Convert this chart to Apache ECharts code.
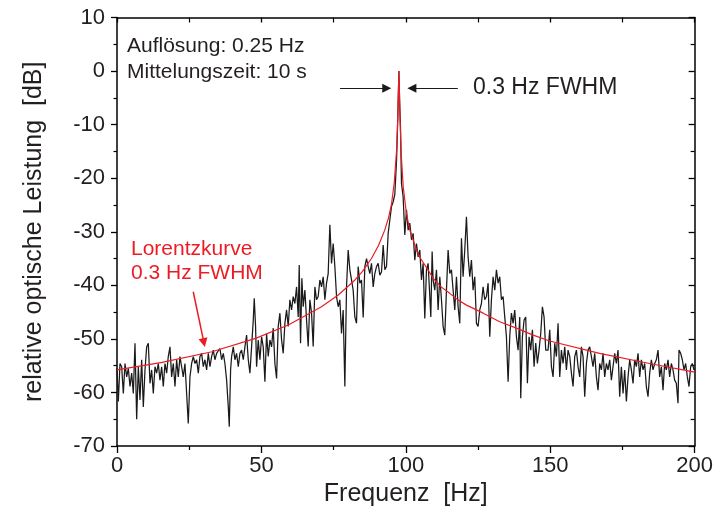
<!DOCTYPE html>
<html>
<head>
<meta charset="utf-8">
<script src="https://cdn.jsdelivr.net/npm/echarts@6/dist/echarts.min.js"></script>
<style>
html,body{margin:0;padding:0;background:#fff;}
#chart{width:716px;height:522px;}
</style>
</head>
<body>
<div id="chart"></div>
<script>
// ---- data ----
const xTicks = [0, 50, 100, 150, 200];
const yTicks = [-70, -60, -50, -40, -30, -20, -10, 0, 10];

// measured spectrum: frequency [Hz]
const freqHz = [
0.0,0.46,1.04,1.62,2.19,2.77,3.35,3.92,4.50,5.08,5.65,6.23,6.81,7.38,7.96,8.54,9.11,9.69,10.27,10.84,
11.42,12.00,12.57,13.15,13.73,14.30,14.88,15.46,16.03,16.61,17.19,17.76,18.34,18.92,19.49,20.07,20.65,21.22,21.80,22.38,
22.95,23.53,24.11,24.68,25.26,25.84,26.42,26.99,27.57,28.15,28.72,29.30,29.88,30.45,31.03,31.61,32.18,32.76,33.34,33.91,
34.49,35.07,35.64,36.22,36.80,37.37,37.95,38.53,38.87,39.33,39.68,40.26,40.83,41.41,41.99,42.56,43.14,43.72,44.29,44.87,
45.45,46.02,46.60,47.18,47.52,47.98,
48.33,48.90,49.48,50.06,50.63,51.21,51.79,52.36,52.94,53.52,54.09,54.67,55.25,55.82,56.40,56.98,57.55,58.13,58.71,59.28,
59.86,60.44,61.01,61.59,62.17,62.74,63.09,63.55,64.01,64.47,65.05,65.63,66.20,66.78,67.36,67.93,68.51,69.09,69.66,70.24,
70.82,71.39,71.97,72.55,73.12,73.70,74.28,74.85,75.43,76.01,76.58,77.16,77.74,78.31,78.89,79.47,80.04,80.62,81.20,81.77,
82.35,82.93,83.50,84.08,84.66,85.24,85.81,86.39,86.97,87.54,88.12,88.70,89.27,89.85,90.43,91.00,91.58,92.16,92.73,93.31,
93.89,94.46,95.04,95.62,96.19,96.80,97.20,97.60,97.90,98.15,
98.50,99.07,99.65,100.23,100.80,101.38,101.96,102.53,103.11,103.69,104.26,104.84,105.42,105.99,106.57,107.15,107.72,108.30,108.65,109.11,
109.45,110.03,110.61,111.18,111.76,112.34,112.91,113.49,114.07,114.64,115.22,115.80,116.37,116.95,117.53,118.10,118.68,119.26,119.83,120.41,
120.99,121.56,122.14,122.72,123.29,123.87,124.45,125.02,125.60,126.18,126.75,127.33,127.91,128.49,129.06,129.64,130.22,130.79,131.37,131.95,
132.52,133.10,133.68,134.25,134.83,135.41,135.98,136.56,137.14,137.71,138.29,138.87,139.44,139.79,140.36,140.94,141.52,142.10,142.67,143.25,
143.83,144.40,144.98,145.55,146.13,146.71,147.29,147.86,148.44,
149.25,149.83,150.41,150.98,151.56,152.14,152.71,153.29,153.87,154.44,155.02,155.60,156.17,156.75,157.33,157.90,158.48,159.06,159.63,160.21,
160.79,161.36,161.94,162.52,163.09,163.67,164.25,164.82,165.40,165.98,166.55,167.13,167.71,168.28,168.86,169.44,170.01,170.59,171.17,171.74,
172.32,172.90,173.47,174.05,174.63,175.21,175.78,176.36,176.94,177.51,178.09,178.67,179.24,179.82,180.40,180.97,181.55,182.13,182.70,183.28,
183.86,184.43,185.01,185.59,186.16,186.74,187.32,187.89,188.47,189.05,189.62,190.20,190.78,191.35,191.93,192.51,193.08,193.66,194.24,194.58,
195.16,195.73,196.31,196.89,197.47,198.04,198.62,199.20,199.77,200.0
];
// measured spectrum: relative optical power [dB]
const levelDb = [
-55.5,-61.7,-54.6,-55.2,-60.2,-54.6,-57.1,-55.5,-58.9,-56.4,-60.2,-50.8,-65.0,-55.2,-61.4,-53.9,-62.7,-55.8,-51.5,-50.8,
-58.3,-55.8,-60.2,-55.2,-56.4,-54.6,-57.7,-55.2,-58.9,-54.6,-56.4,-53.3,-51.5,-57.1,-54.6,-58.9,-53.9,-57.1,-53.3,-55.2,
-57.1,-54.6,-60.2,-65.8,-57.1,-54.6,-53.3,-54.6,-53.9,-56.4,-53.3,-52.7,-55.2,-53.9,-55.8,-52.7,-55.2,-53.3,-52.1,-53.9,
-52.7,-52.4,-51.8,-53.9,-52.7,-54.6,-57.7,-62.7,-66.4,-55.8,-53.3,-51.5,-53.9,-52.7,-55.2,-52.7,-52.1,-53.9,-51.5,-49.3,
-53.9,-56.4,-51.5,-46.5,-42.4,-47.7,
-55.2,-50.2,-53.9,-49.6,-51.5,-58.0,-49.0,-53.3,-50.2,-51.5,-48.0,-54.6,-57.4,-47.7,-45.2,-50.2,-52.7,-47.1,-44.6,-47.7,
-42.7,-44.6,-42.1,-43.4,-40.3,-45.9,-36.2,-50.8,-38.7,-44.0,-40.9,-46.5,-51.4,-42.7,-45.2,-51.4,-40.3,-42.7,-42.1,-39.0,
-40.3,-38.4,-42.7,-39.6,-37.8,-28.7,-35.9,-32.2,-36.5,-42.1,-44.0,-42.7,-49.0,-44.6,-58.9,-40.3,-33.4,-37.1,-39.0,-40.9,
-45.9,-47.1,-36.5,-39.6,-39.0,-46.0,-36.5,-35.0,-36.5,-37.8,-35.9,-40.3,-37.8,-36.5,-35.9,-38.1,-37.5,-32.5,-37.1,-36.5,
-30.3,-27.8,-25.3,-24.4,-23.0,-16.6,-9.0,0.0,-6.5,-10.4,
-21.0,-23.5,-30.6,-25.9,-29.7,-28.4,-31.5,-30.3,-35.3,-32.2,-34.7,-33.4,-39.0,-35.9,-46.2,-37.1,-35.9,-42.1,-45.9,-33.7,
-39.0,-40.9,-37.1,-44.6,-38.4,-42.7,-47.7,-49.3,-40.9,-33.4,-37.8,-37.1,-40.9,-44.6,-38.4,-44.0,-47.1,-31.2,-38.4,-33.4,
-27.2,-34.7,-38.4,-35.3,-40.9,-38.4,-47.1,-47.7,-44.6,-43.4,-40.3,-42.7,-42.1,-39.6,-49.6,-42.7,-38.4,-40.9,-37.1,-39.6,
-38.4,-42.7,-42.1,-45.9,-49.6,-58.0,-49.6,-45.2,-47.1,-44.6,-49.6,-52.1,-45.9,-61.1,-49.6,-46.5,-45.9,-58.3,-49.6,-52.1,
-48.3,-55.2,-50.8,-54.6,-52.1,-49.0,-44.0,-45.9,-52.1,
-52.1,-48.3,-55.2,-57.1,-50.8,-53.3,-47.1,-57.1,-52.1,-54.6,-51.5,-55.8,-52.1,-53.3,-56.4,-58.9,-53.3,-52.1,-55.2,-57.1,
-51.5,-53.3,-60.8,-54.6,-52.1,-51.5,-53.3,-55.2,-52.7,-57.1,-59.6,-54.6,-55.8,-52.7,-57.1,-54.6,-55.8,-53.9,-57.7,-55.2,
-52.7,-54.6,-52.1,-60.8,-55.2,-60.2,-55.8,-61.7,-57.1,-53.9,-55.8,-58.3,-53.9,-55.2,-52.7,-57.1,-53.9,-55.8,-54.6,-58.9,
-60.8,-56.4,-53.9,-55.8,-54.6,-53.9,-52.1,-57.1,-55.2,-59.6,-54.6,-55.8,-53.9,-57.1,-54.6,-55.8,-57.7,-58.3,-62.0,-52.1,
-52.7,-53.9,-55.8,-54.6,-57.1,-58.9,-55.2,-54.6,-55.8,-55.5
];

// red Lorentz curve (0.3 Hz FWHM)
const lorentzHz = [0, 15.6, 32.9, 48, 59.3, 70.8, 76.6, 82.4, 85, 88.1, 90.5, 92.7, 94, 95, 96, 96.8, 97.2, 97.6,
  98.0, 98.4, 99.1, 100.2, 101.4, 103.7, 105, 106.6, 109.5, 112, 115.2, 118, 121, 126.8, 132.5, 138.3, 144.1, 149.8, 167.1, 184.4, 200];
const lorentzDb = [-55.8, -54.4, -52.4, -49.9, -47.4, -44.0, -41.8, -39.0, -37.4, -35.0, -32.6, -29.7, -27.4, -25.0, -20.8, -14.8, -9.1, 0.0,
  -9.0, -15.5, -21.6, -26.6, -29.7, -33.4, -34.9, -36.2, -38.7, -40.2, -41.5, -42.7, -43.7, -45.2, -46.8, -48.0, -49.3, -50.4, -52.7, -54.6, -56.2];

// arrow annotations [fromHz, fromDb, toHz, toDb]
const fwhmArrowLeft = [77.2, -3.2, 93.4, -3.2];
const fwhmArrowRight = [118.0, -3.2, 102.1, -3.2];
const lorentzArrow = [26.4, -41.2, 30.1, -50.7];

// ---- chart ----
const FONT = "'Liberation Sans', Arial, Helvetica, sans-serif";
const TXT = '#231f20';
const chart = echarts.init(document.getElementById('chart'), null, {renderer: 'canvas'});

const spectrum = freqHz.map((f, i) => [f, levelDb[i]]);
const lorentz = lorentzHz.map((f, i) => [f, lorentzDb[i]]);

function arrowLine(a) { return [{coord: [a[0], a[1]]}, {coord: [a[2], a[3]]}]; }

const axisLineStyle = {color: '#000', width: 1.5};

const option = {
  animation: false,
  backgroundColor: '#fff',
  grid: {left: 117, right: 21, top: 17.5, bottom: 76, containLabel: false},
  xAxis: [
    {
      type: 'value', position: 'bottom', min: xTicks[0], max: xTicks[xTicks.length - 1], interval: 50,
      axisLine: {show: true, onZero: false, lineStyle: axisLineStyle},
      axisTick: {show: true, inside: false, length: 7, lineStyle: {color: '#000', width: 1.3}},
      minorTick: {show: true, splitNumber: 2, length: 4, lineStyle: {color: '#000', width: 1.2}},
      splitLine: {show: false},
      axisLabel: {show: true, fontSize: 22, color: TXT, fontFamily: FONT, margin: 9},
      name: 'Frequenz  [Hz]', nameLocation: 'middle', nameGap: 33,
      nameTextStyle: {fontSize: 25, color: TXT, fontFamily: FONT}
    },
    {
      type: 'value', position: 'top', min: xTicks[0], max: xTicks[xTicks.length - 1], interval: 50,
      axisLine: {show: true, onZero: false, lineStyle: axisLineStyle},
      axisTick: {show: true, inside: true, length: 5, lineStyle: {color: '#000', width: 1.3}},
      minorTick: {show: true, splitNumber: 2, length: 5, lineStyle: {color: '#000', width: 1.2}},
      splitLine: {show: false}, axisLabel: {show: false}
    }
  ],
  yAxis: [
    {
      type: 'value', position: 'left', min: yTicks[0], max: yTicks[yTicks.length - 1], interval: 10,
      axisLine: {show: true, onZero: false, lineStyle: axisLineStyle},
      axisTick: {show: true, inside: false, length: 6, lineStyle: {color: '#000', width: 1.3}},
      minorTick: {show: true, splitNumber: 2, length: 3.5, lineStyle: {color: '#000', width: 1.2}},
      splitLine: {show: false},
      axisLabel: {show: true, fontSize: 22, color: TXT, fontFamily: FONT, margin: 12},
      name: 'relative optische Leistung  [dB]', nameLocation: 'middle', nameGap: 70, nameRotate: 90,
      nameTextStyle: {fontSize: 25, color: TXT, fontFamily: FONT}
    },
    {
      type: 'value', position: 'right', min: yTicks[0], max: yTicks[yTicks.length - 1], interval: 10,
      axisLine: {show: true, onZero: false, lineStyle: axisLineStyle},
      axisTick: {show: true, inside: true, length: 6, lineStyle: {color: '#000', width: 1.3}},
      minorTick: {show: true, splitNumber: 2, length: 4, lineStyle: {color: '#000', width: 1.2}},
      splitLine: {show: false}, axisLabel: {show: false}
    }
  ],
  series: [
    {
      type: 'line', data: spectrum, xAxisIndex: 0, yAxisIndex: 0,
      showSymbol: false, symbol: 'none', z: 2,
      lineStyle: {color: '#1a1a1a', width: 1.25},
      markLine: {
        silent: true, symbol: ['none', 'triangle'], symbolSize: 9,
        label: {show: false},
        lineStyle: {color: '#1a1a1a', width: 1.2, type: 'solid'},
        data: [arrowLine(fwhmArrowLeft), arrowLine(fwhmArrowRight)]
      }
    },
    {
      type: 'line', data: lorentz, xAxisIndex: 0, yAxisIndex: 0,
      showSymbol: false, symbol: 'none', z: 3,
      lineStyle: {color: '#ec1c24', width: 1.2},
      markLine: {
        silent: true, symbol: ['none', 'triangle'], symbolSize: 9,
        label: {show: false},
        lineStyle: {color: '#ec1c24', width: 1.5, type: 'solid'},
        data: [arrowLine(lorentzArrow)]
      }
    }
  ],
  graphic: [
    {type: 'text', x: 127, y: 46, style: {text: 'Auflösung: 0.25 Hz', font: '21px ' + FONT, fill: TXT, verticalAlign: 'middle', textVerticalAlign: 'middle'}},
    {type: 'text', x: 127, y: 72, style: {text: 'Mittelungszeit: 10 s', font: '21px ' + FONT, fill: TXT, verticalAlign: 'middle', textVerticalAlign: 'middle'}},
    {type: 'text', x: 473, y: 88, style: {text: '0.3 Hz FWHM', font: '23px ' + FONT, fill: TXT, verticalAlign: 'middle', textVerticalAlign: 'middle'}},
    {type: 'text', x: 131, y: 249, style: {text: 'Lorentzkurve', font: '21px ' + FONT, fill: '#ec1c24', verticalAlign: 'middle', textVerticalAlign: 'middle'}},
    {type: 'text', x: 131, y: 273, style: {text: '0.3 Hz FWHM', font: '21px ' + FONT, fill: '#ec1c24', verticalAlign: 'middle', textVerticalAlign: 'middle'}}
  ]
};
chart.setOption(option);
</script>
</body>
</html>
